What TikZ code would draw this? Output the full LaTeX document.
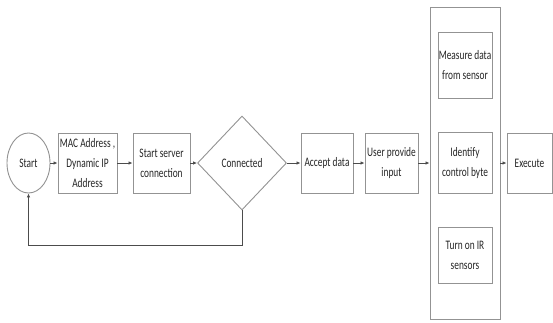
\documentclass[tikz,border=0pt]{standalone}
\usepackage{fontspec}
\setmainfont{Carlito}[FakeStretch=0.72]
\usetikzlibrary{arrows.meta,shapes.geometric}

\begin{document}
\begin{tikzpicture}[x=1pt,y=-1pt,
  box/.style={draw=gray!85,fill=white,line width=0.9pt,align=center,inner sep=0pt,
    text=black!85,font=\fontsize{13}{20}\selectfont},
  link/.style={draw=black!70,line width=0.8pt,-{Latex[length=4pt,width=3.5pt]}}]
\useasboundingbox (0,0) rectangle (553,322);

% Left-hand chain
\node [box,ellipse,minimum width=43pt,minimum height=60pt] (start) at (28.5,163) {Start};
\node [box,minimum width=59pt,minimum height=60pt] (mac) at (87.5,163) {MAC Address ,\\Dynamic IP\\Address};
\node [box,minimum width=57pt,minimum height=60pt] (server) at (161.5,163) {Start server\\connection};
\node [box,diamond,minimum width=89pt,minimum height=94pt] (conn) at (242,163) {Connected};
\node [box,minimum width=52pt,minimum height=60pt] (accept) at (327,163) {Accept data};
\node [box,minimum width=53pt,minimum height=60pt] (user) at (391.5,163) {User provide\\input};

% Sensor block
\node [box,minimum width=70pt,minimum height=312pt] (block) at (465,163) {};
\node [box,minimum width=54pt,minimum height=66pt] (measure) at (465,65) {Measure data\\from sensor};
\node [box,minimum width=54pt,minimum height=61pt] (identify) at (465,163) {Identify\\control byte};
\node [box,minimum width=54pt,minimum height=56pt] (turnon) at (465,255) {Turn on IR\\sensors};

\node [box,minimum width=45pt,minimum height=60pt] (exec) at (529.5,163) {Execute};

% Arrows
\draw [link] (start) -- (mac);
\draw [link] (mac) -- (server);
\draw [link] (server) -- (conn.west);
\draw [link] (conn.east) -- (accept);
\draw [link] (accept) -- (user);
\draw [link] (user) -- (block);
\draw [link] (block) -- (exec);

% back to start
\coordinate (turn) at (242,245);
\draw [link] (conn.south) -- (turn) -| (start.south);
\end{tikzpicture}
\end{document}
